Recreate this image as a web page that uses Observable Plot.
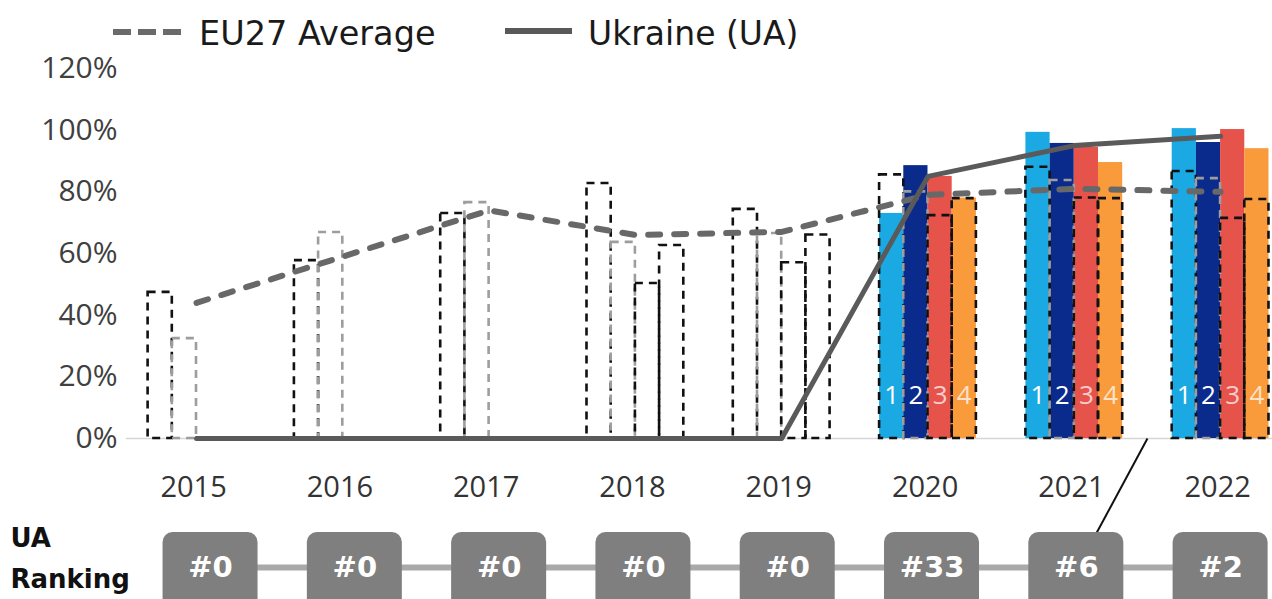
<!DOCTYPE html>
<html>
<head>
<meta charset="utf-8">
<script src="https://cdn.jsdelivr.net/npm/d3@7"></script>
<script src="https://cdn.jsdelivr.net/npm/@observablehq/plot@0.6"></script>
<style>
  body { margin: 0; background: #fff; }
  #wrap { width: 1272px; height: 599px; position: relative; overflow: hidden; }
  #legend { position: absolute; left: 0; top: 0; z-index: 2; }
  #legend svg, #chart svg { display: block; }
</style>
</head>
<body>
<div id="wrap"><div id="chart"></div><div id="legend"></div></div>
<script>
// ---------- data ----------
const years = [2015, 2016, 2017, 2018, 2019, 2020, 2021, 2022];
const ranks = [1, 2, 3, 4];
const euAverage = [44, 59, 74, 66, 67, 79, 81, 80];
const ukraine   = [0, 0, 0, 0, 0, 85, 95, 98];
const uaRanking = ["#0", "#0", "#0", "#0", "#0", "#33", "#6", "#2"];

// filled bars (top-4 countries), per rank across years
const filledRank1 = [0, 0, 0, 0, 0, 73, 99.3, 100.5];
const filledRank2 = [0, 0, 0, 0, 0, 88.5, 95.7, 96];
const filledRank3 = [0, 0, 0, 0, 0, 85, 94.4, 100.2];
const filledRank4 = [0, 0, 0, 0, 0, 78, 89.5, 94];

// dashed outline bars, per rank across years
const outlineRank1 = [47.4, 57.7, 73, 82.7, 74.3, 85.5, 88, 86.6];
const outlineRank2 = [32.4, 66.8, 76.5, 63.6, 66.5, 80, 83.7, 84.3];
const outlineRank3 = [0, 0, 0, 50.3, 57, 72.3, 78, 71.4];
const outlineRank4 = [0, 0, 0, 62.6, 66, 77.8, 77.8, 77.5];

const rankColors = ["#1aa9e2", "#0b2b8c", "#e5534a", "#f99a3b"];
const yTicks = [0, 20, 40, 60, 80, 100, 120];
const rowLabels = ["UA", "Ranking"];
const callout = {fromYear: 2021.5, toRankYear: 2021};

// ---------- derived tables ----------
const filled = [filledRank1, filledRank2, filledRank3, filledRank4];
const outline = [outlineRank1, outlineRank2, outlineRank3, outlineRank4];
const barW = 0.1654;
const bars = years.flatMap((year, yi) => ranks.map((rank, ri) => ({
  year, rank,
  x1: year - 2 * barW + ri * barW,
  x2: year - 2 * barW + (ri + 1) * barW,
  filled: filled[ri][yi],
  outline: outline[ri][yi]
})));
const lineRows = years.map((year, i) => ({year, eu: euAverage[i], ua: ukraine[i]}));
const rowX = i => 2015.096 + i * 0.9863;
const boxHalf = 0.3247;
const rankRows = years.map((year, i) => ({year, label: uaRanking[i], cx: rowX(i)}));

// ---------- legend ----------
const leg = d3.create("svg").attr("width", 820).attr("height", 58);
leg.append("line").attr("x1", 113).attr("x2", 182).attr("y1", 32).attr("y2", 32)
  .attr("stroke", "#6a6a6a").attr("stroke-width", 6).attr("stroke-dasharray", "18,7");
leg.append("text").attr("x", 199).attr("y", 45).text("EU27 Average")
  .attr("font-family", "DejaVu Sans").attr("font-size", 33.5).attr("fill", "#1a1a1a");
leg.append("line").attr("x1", 505).attr("x2", 572).attr("y1", 31).attr("y2", 31)
  .attr("stroke", "#595959").attr("stroke-width", 6);
leg.append("text").attr("x", 588).attr("y", 45).text("Ukraine (UA)")
  .attr("font-family", "DejaVu Sans").attr("font-size", 33).attr("fill", "#1a1a1a");
document.getElementById("legend").append(leg.node());

// ---------- chart ----------
const yTop = -30.5, yRow = -41.8;
const chart = Plot.plot({
  width: 1272, height: 599,
  marginLeft: 120, marginRight: 0, marginTop: 68, marginBottom: 0,
  x: {domain: [2014.4805, 2022.3548], axis: null},
  y: {domain: [-52.2, 120], axis: null},
  style: {fontFamily: "Open Sans", background: "white", overflow: "hidden"},
  marks: [
    Plot.ruleY([0], {x1: 2014.52, x2: 2022.3548, stroke: "#d6d6d6", strokeWidth: 1.5}),
    Plot.rect(bars.filter(d => d.filled > 0), {
      x1: "x1", x2: "x2", y1: 0, y2: "filled",
      fill: d => rankColors[d.rank - 1]
    }),
    Plot.rect(bars.filter(d => d.outline > 0), {
      x1: "x1", x2: "x2", y1: 0, y2: "outline",
      fill: "none",
      stroke: d => d.rank === 2 ? "#9d9d9d" : "#111111",
      strokeWidth: 2.6, strokeDasharray: "8,6"
    }),
    Plot.line(lineRows, {x: "year", y: "eu", stroke: "#686868", strokeWidth: 6,
      strokeDasharray: "12,14", strokeLinecap: "round"}),
    Plot.line(lineRows, {x: "year", y: "ua", stroke: "#5a5a5a", strokeWidth: 5}),
    Plot.text(bars.filter(d => d.filled > 0 && d.rank <= 2), {
      x: d => (d.x1 + d.x2) / 2, y: 13.9, text: d => String(d.rank),
      fill: "white", fontSize: 26
    }),
    Plot.text(bars.filter(d => d.filled > 0 && d.rank > 2), {
      x: d => (d.x1 + d.x2) / 2, y: 13.9, text: d => String(d.rank),
      fill: "white", fillOpacity: 0.72, fontSize: 26
    }),
    Plot.text(years, {x: d => d - 0.02, y: -15.9, text: d => String(d),
      fill: "#333", fontSize: 29}),
    Plot.link([callout], {
      x1: "fromYear", y1: 0,
      x2: d => rowX(years.indexOf(d.toRankYear)) + 0.14, y2: yTop,
      stroke: "#111", strokeWidth: 2
    }),
    Plot.ruleY([yRow], {x1: rowX(0), x2: rowX(years.length - 1), stroke: "#a9a9a9", strokeWidth: 6}),
    Plot.rect(rankRows, {
      x1: d => d.cx - boxHalf, x2: d => d.cx + boxHalf, y1: yTop, y2: -60,
      fill: "#7f7f7f", rx: 10
    }),
    Plot.text(rankRows, {x: "cx", y: yRow, text: "label", fill: "white",
      fontSize: 29, fontWeight: "bold", fontFamily: "DejaVu Sans"}),
    Plot.text(rowLabels, {
      x: 2014.4805 - 110 / 146.3, y: (d, i) => i === 0 ? -32.4 : -45.9, text: d => d,
      textAnchor: "start", fill: "#111", fontSize: 26, fontWeight: "bold", fontFamily: "DejaVu Sans"
    }),
    Plot.axisY({ticks: yTicks, tickFormat: d => d + "%", tickSize: 0, tickPadding: 3,
      fontSize: 30, color: "#404040", label: null})
  ]
});
document.getElementById("chart").append(chart);
</script>
</body>
</html>
